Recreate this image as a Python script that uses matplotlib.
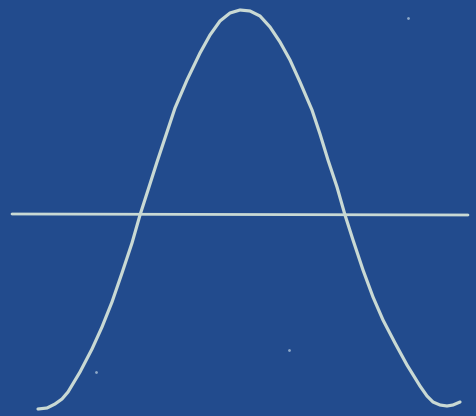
import matplotlib
matplotlib.use("Agg")
import matplotlib.pyplot as plt

# 곡선 좌표 (그림에서 읽은 값, 픽셀 기준)
curve_x = [38, 47, 55, 62, 68, 80, 92, 102, 112, 122, 132, 140, 149, 157, 166, 175,
           187, 200, 210, 220, 230, 240, 250, 260, 270, 280, 290, 300, 312, 320,
           328, 337, 345, 353, 363, 373, 383, 395, 407, 420, 427, 433, 440, 447, 453, 460]
curve_y = [409, 408, 404, 399, 392, 372, 349, 327, 302, 273, 243, 215, 187, 162, 135, 108,
           80, 53, 35, 21, 13, 10, 11, 16, 27, 42, 60, 82, 110, 134,
           160, 187, 215, 240, 270, 297, 320, 343, 365, 386, 396, 402, 405, 406, 405, 402]

# 가로선
hline_x = [12, 468]
hline_y = [214, 215]

bg = "#224b8d"
ink = "#c9d9d4"

fig = plt.figure(figsize=(4.76, 4.16), dpi=100)
fig.patch.set_facecolor(bg)
ax = fig.add_axes([0, 0, 1, 1])
ax.set_facecolor(bg)

ax.plot(hline_x, hline_y, color=ink, lw=2.0, solid_capstyle="round")
ax.plot(curve_x, curve_y, color=ink, lw=2.3, solid_capstyle="round",
        solid_joinstyle="round")

# 작은 얼룩
ax.plot([408, 289, 96], [18, 350, 372], "o", color="#8fa9c8", ms=2, mew=0)

ax.set_xlim(0, 476)
ax.set_ylim(416, 0)
ax.axis("off")

fig.savefig("out.png", dpi=100, facecolor=bg)
